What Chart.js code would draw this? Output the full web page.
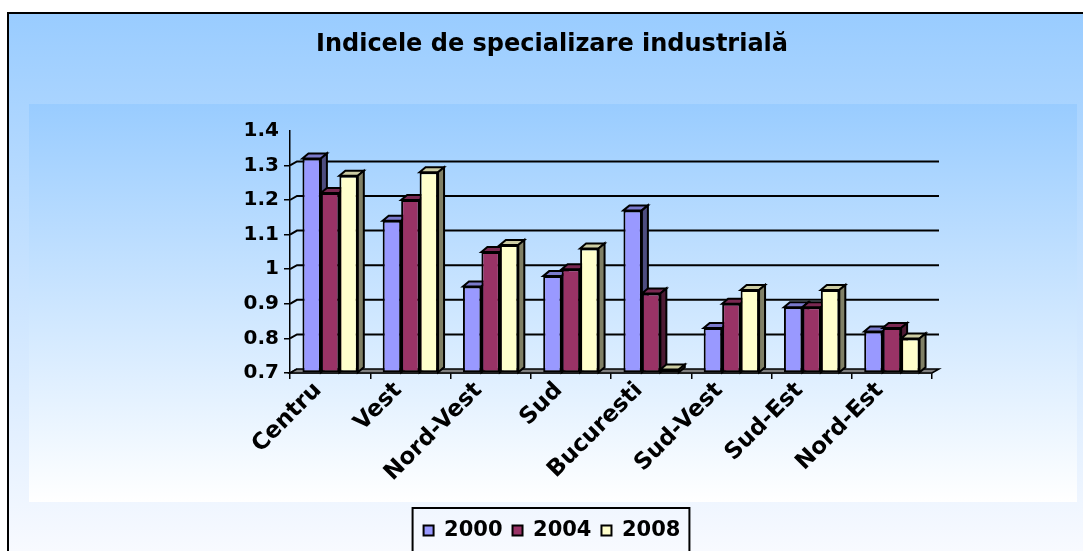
<!DOCTYPE html>
<html>
<head>
<meta charset="utf-8">
<title>Indicele de specializare industrială</title>
<script src="https://cdn.jsdelivr.net/npm/chart.js@4.4.0/dist/chart.umd.min.js"></script>
<style>
    html, body { margin: 0; padding: 0; background: #fff; }
    canvas { display: block; }
</style>
</head>
<body>
<canvas id="chart" width="1083" height="551"></canvas>
<script>
// Valeurs
const regions = ['Centru', 'Vest', 'Nord-Vest', 'Sud', 'Bucuresti', 'Sud-Vest', 'Sud-Est', 'Nord-Est'];
const years = ['2000', '2004', '2008'];
const values2000 = [1.32, 1.14, 0.95, 0.98, 1.17, 0.83, 0.89, 0.82];
const values2004 = [1.22, 1.20, 1.05, 1.00, 0.93, 0.90, 0.89, 0.83];
const values2008 = [1.27, 1.28, 1.07, 1.06, 0.71, 0.94, 0.94, 0.80];
const yMin = 0.7;
const yMax = 1.4;
const yStep = 0.1;

// Couleurs (face, dessus, côté)
const faceColors = ['#9999ff', '#993366', '#ffffcc'];
const topColors = ['#7a7acc', '#7a2952', '#cccca3'];
const sideColors = ['#4d4d80', '#4d1a33', '#808066'];

const FONT = 'DejaVu Sans';
const BAR_DX = 6, BAR_DY = -5;
const WALL_DX = 7, WALL_DY = -4;

// Fond, cadre et zone intérieure
const backgroundPlugin = {
    id: 'background',
    beforeDraw(chart) {
        const ctx = chart.ctx;
        const w = chart.width, h = chart.height;
        ctx.save();
        ctx.fillStyle = '#fff';
        ctx.fillRect(0, 0, w, h);
        const g = ctx.createLinearGradient(0, 13, 0, h);
        g.addColorStop(0, '#99ccff');
        g.addColorStop(1, '#f8faff');
        ctx.fillStyle = g;
        ctx.fillRect(8, 13, w, h);
        const g2 = ctx.createLinearGradient(0, 104, 0, 502);
        g2.addColorStop(0, '#99ccff');
        g2.addColorStop(1, '#ffffff');
        ctx.fillStyle = g2;
        ctx.fillRect(29, 104, 1048, 398);
        ctx.strokeStyle = '#000';
        ctx.lineWidth = 2;
        ctx.strokeRect(8, 13, w + 20, h + 20);
        ctx.restore();
    }
};

// Mur du fond, sol et faces 3D des barres
const depthPlugin = {
    id: 'depth',
    beforeDatasetsDraw(chart) {
        const ctx = chart.ctx;
        const { left, right } = chart.chartArea;
        const yScale = chart.scales.y;
        ctx.save();
        ctx.strokeStyle = '#000';
        ctx.lineWidth = 2;

        yScale.ticks.forEach(t => {
            if (t.value >= yMax - 1e-6) return;
            const py = yScale.getPixelForValue(t.value);
            ctx.beginPath();
            ctx.moveTo(left, py);
            ctx.lineTo(left + WALL_DX, py + WALL_DY);
            if (t.value > yMin + 1e-6) {
                ctx.lineTo(right + WALL_DX, py + WALL_DY);
            }
            ctx.stroke();
        });

        const py0 = yScale.getPixelForValue(yMin);
        ctx.fillStyle = '#808080';
        ctx.lineWidth = 1.5;
        ctx.beginPath();
        ctx.moveTo(left, py0);
        ctx.lineTo(right, py0);
        ctx.lineTo(right + WALL_DX, py0 + WALL_DY);
        ctx.lineTo(left + WALL_DX, py0 + WALL_DY);
        ctx.closePath();
        ctx.fill();
        ctx.stroke();

        ctx.lineWidth = 2;
        chart.data.datasets.forEach((ds, i) => {
            chart.getDatasetMeta(i).data.forEach(bar => {
                const { x, y, base, width } = bar.getProps(['x', 'y', 'base', 'width'], true);
                const l = x - width / 2, r = x + width / 2;
                ctx.fillStyle = topColors[i];
                ctx.beginPath();
                ctx.moveTo(l, y);
                ctx.lineTo(l + BAR_DX, y + BAR_DY);
                ctx.lineTo(r + BAR_DX, y + BAR_DY);
                ctx.lineTo(r, y);
                ctx.closePath();
                ctx.fill();
                ctx.stroke();
                ctx.fillStyle = sideColors[i];
                ctx.beginPath();
                ctx.moveTo(r, y);
                ctx.lineTo(r + BAR_DX, y + BAR_DY);
                ctx.lineTo(r + BAR_DX, base + BAR_DY);
                ctx.lineTo(r, base);
                ctx.closePath();
                ctx.fill();
                ctx.stroke();
            });
        });
        ctx.restore();
    }
};

// Cadre autour de la légende
const legendBoxPlugin = {
    id: 'legendBox',
    afterDraw(chart) {
        const boxes = chart.legend.legendHitBoxes;
        if (!boxes || !boxes.length) return;
        const minX = Math.min(...boxes.map(b => b.left));
        const maxX = Math.max(...boxes.map(b => b.left + b.width));
        const top = Math.min(...boxes.map(b => b.top));
        const ctx = chart.ctx;
        ctx.save();
        ctx.strokeStyle = '#000';
        ctx.lineWidth = 2;
        ctx.strokeRect(minX - 11, top - 12, maxX - minX + 20, 60);
        ctx.restore();
    }
};

const makeDataset = (label, data, i) => ({
    label: label,
    data: data,
    base: yMin,
    backgroundColor: faceColors[i],
    borderColor: '#000',
    borderWidth: 2,
    borderSkipped: false,
    barPercentage: 1,
    categoryPercentage: 0.69
});

new Chart(document.getElementById('chart'), {
    type: 'bar',
    data: {
        labels: regions,
        datasets: [
            makeDataset(years[0], values2000, 0),
            makeDataset(years[1], values2004, 1),
            makeDataset(years[2], values2008, 2)
        ]
    },
    options: {
        responsive: false,
        animation: false,
        devicePixelRatio: 1,
        layout: { padding: { left: 172, right: 151, top: 0, bottom: 0 } },
        scales: {
            x: {
                afterFit(scale) { scale.height = 137; },
                grid: { offset: true, drawOnChartArea: false, tickLength: 6, color: '#000', lineWidth: 1.5 },
                border: { color: '#000', width: 1.5 },
                ticks: {
                    autoSkip: false,
                    maxRotation: 45,
                    minRotation: 45,
                    padding: -2,
                    labelOffset: -12,
                    color: '#000',
                    font: { family: FONT, size: 23, weight: 'bold' }
                }
            },
            y: {
                min: yMin,
                max: yMax,
                afterFit(scale) { scale.width = 118; },
                grid: {
                    drawOnChartArea: false,
                    tickLength: 6,
                    lineWidth: 1.5,
                    color: c => (c.tick && c.tick.value >= yMax - 1e-6) ? 'rgba(0,0,0,0)' : '#000'
                },
                border: { color: '#000', width: 1.5 },
                ticks: {
                    stepSize: yStep,
                    padding: 5,
                    color: '#000',
                    font: { family: FONT, size: 20, weight: 'bold' },
                    callback: v => String(Math.round(v * 10) / 10)
                }
            }
        },
        plugins: {
            title: {
                display: true,
                text: 'Indicele de specializare industrială',
                color: '#000',
                font: { family: FONT, size: 24, weight: 'bold' },
                padding: { top: 30, bottom: 72 }
            },
            legend: {
                position: 'bottom',
                labels: {
                    color: '#000',
                    boxWidth: 10,
                    boxHeight: 10,
                    padding: 10,
                    font: { family: FONT, size: 21, weight: 'bold' }
                }
            },
            tooltip: { enabled: false }
        }
    },
    plugins: [backgroundPlugin, depthPlugin, legendBoxPlugin]
});
</script>
</body>
</html>
